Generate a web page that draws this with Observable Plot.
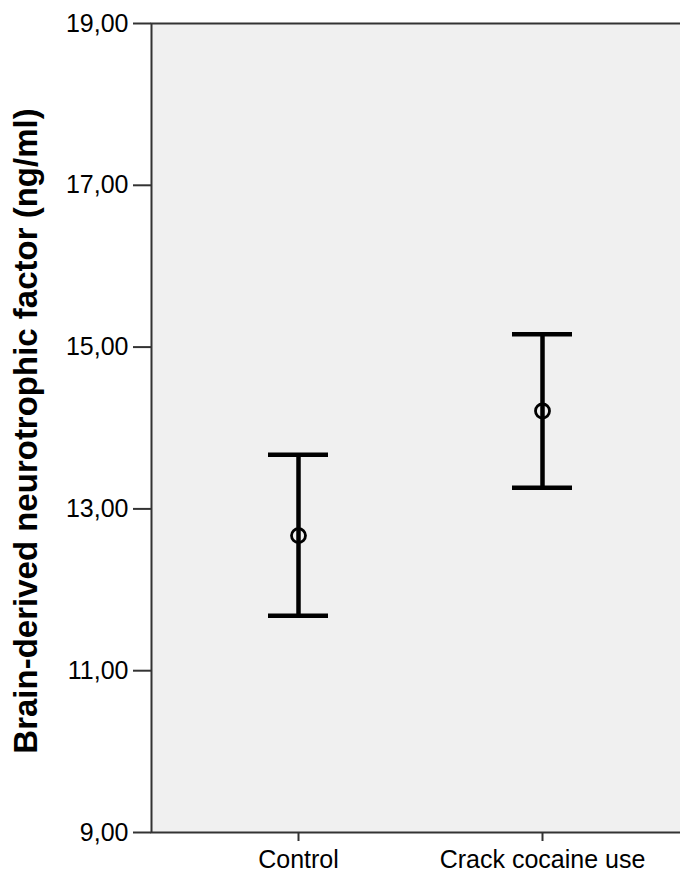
<!DOCTYPE html>
<html>
<head>
<meta charset="utf-8">
<script src="https://cdn.jsdelivr.net/npm/d3@7"></script>
<script src="https://cdn.jsdelivr.net/npm/@observablehq/plot@0.6"></script>
<style>
  html, body { margin: 0; padding: 0; background: #fff; }
  #chart { width: 680px; height: 879px; overflow: hidden; }
  #chart svg { max-width: none !important; }
</style>
</head>
<body>
<div id="chart"></div>
<script>
const groups = ["Control", "Crack cocaine use"];
const means = [12.67, 14.21];
const lower = [11.68, 13.26];
const upper = [13.67, 15.16];
const yTicks = [9, 11, 13, 15, 17, 19];
const yLabel = "Brain-derived neurotrophic factor (ng/ml)";

const data = groups.map((g, i) => ({group: g, mean: means[i], lo: lower[i], hi: upper[i]}));
const fmt = v => d3.format(".2f")(v).replace(".", ",");
const font = "Liberation Sans, Arial, sans-serif";

const chart = Plot.plot({
  width: 688,
  height: 879,
  marginLeft: 151,
  marginRight: 0,
  marginTop: 23,
  marginBottom: 47,
  style: {fontFamily: font, fontSize: "25px", color: "#000", background: "#fff", maxWidth: "none"},
  x: {type: "point", domain: groups, padding: 0.6, label: null},
  y: {domain: [9, 19], ticks: yTicks, label: null},
  marks: [
    Plot.frame({fill: "#f0f0f0", stroke: "#333", strokeWidth: 2}),
    Plot.axisY({ticks: yTicks, tickFormat: fmt, tickSize: 18, tickPadding: 5, stroke: "#333", strokeWidth: 2, fontSize: 25, label: null}),
    Plot.axisX({tickSize: 9, tickPadding: 9, stroke: "#333", strokeWidth: 2, fontSize: 25, label: null}),
    Plot.ruleX(data, {x: "group", y1: "lo", y2: "hi", stroke: "#000", strokeWidth: 4.5}),
    Plot.ruleY(data, {x1: "group", x2: "group", y: "lo", stroke: "#000", strokeWidth: 4.5, insetLeft: -30, insetRight: -30}),
    Plot.ruleY(data, {x1: "group", x2: "group", y: "hi", stroke: "#000", strokeWidth: 4.5, insetLeft: -30, insetRight: -30}),
    Plot.dot(data, {x: "group", y: "mean", r: 7, stroke: "#000", strokeWidth: 2.8, fill: "none"}),
    Plot.text([yLabel], {frameAnchor: "left", dx: -125, dy: 3, rotate: -90, textAnchor: "middle", text: d => d, fontWeight: "bold", fontSize: 33, fill: "#000"})
  ]
});
document.getElementById("chart").appendChild(chart);
</script>
</body>
</html>
